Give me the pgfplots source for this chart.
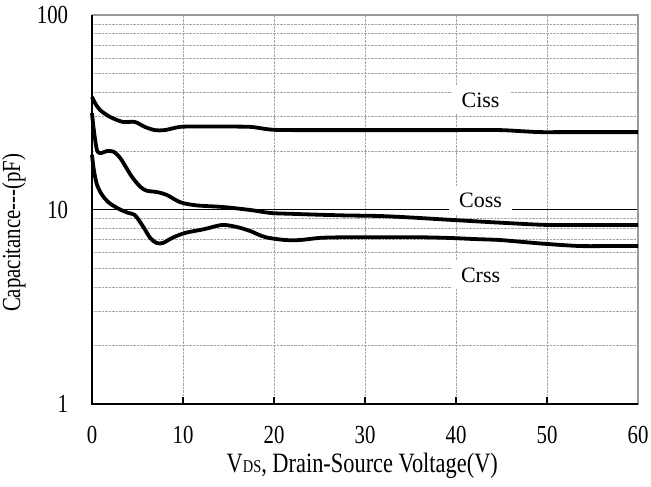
\documentclass[border=0pt]{standalone}
\usepackage{fontspec}
\setmainfont{Liberation Serif}[FakeStretch=0.8]
\newfontfamily\lblfont{Liberation Serif}
\usepackage{pgfplots}
\pgfplotsset{compat=1.18}
\begin{document}
\fontsize{26}{30}\selectfont
\begin{tikzpicture}
\begin{axis}[
  scale only axis, width=546pt, height=389pt,
  xmin=0, xmax=60, ymin=1, ymax=100, ymode=log,
  axis line style={draw=none},
  xtick={0,10,20,30,40,50,60}, xticklabels={0,10,20,30,40,50,60},
  ytick={1,10,100}, yticklabels={1,10,100},
  minor ytick={2,3,4,5,6,7,8,9,20,30,40,50,60,70,80,90},
  xtick pos=bottom, ytick pos=left,
  tick align=inside,
  major tick length=7pt, minor tick length=0pt,
  tick style={black, line width=1.5pt},
  xmajorgrids, yminorgrids,
  major grid style={gray!70, densely dotted, line width=0.8pt},
  minor grid style={gray!70, densely dotted, line width=0.8pt},
  extra y ticks={10}, extra y tick labels={},
  extra y tick style={grid=major, major grid style={black, solid, line width=1.3pt}},
  xticklabel style={yshift=-13pt},
  yticklabel style={xshift=-15pt},
  xlabel={V{\fontsize{18}{18}\selectfont DS}, Drain-Source Voltage(V)},
  ylabel={Capacitance-{}-{}-(pF)},
  xlabel style={at={(axis description cs:0.495,-0.158)}, anchor=center, font=\fontsize{28}{30}\selectfont},
  ylabel style={at={(axis description cs:-0.143,0.44)}, anchor=center, font=\fontsize{26}{28}\selectfont},
  clip=false,
]
\coordinate (ll) at (rel axis cs:0,0);
\coordinate (ur) at (rel axis cs:1,1);
\draw[gray!80, line width=2pt] (rel axis cs:0,1) -- (rel axis cs:1,1) -- (rel axis cs:1,0);
\draw[black, line width=2.5pt] (rel axis cs:0,1) -- (rel axis cs:0,0) -- (rel axis cs:1,0);

% Ciss
\addplot[black, line width=3.8pt, smooth, tension=0.5] coordinates {
(0,37.9) (0.33,35.3) (0.88,32.5) (2.0,29.9) (3.4,28.2) (4.7,28.2) (5.8,26.6) (6.9,25.6) (8.0,25.6) (9.7,26.6) (12,26.7) (15,26.7) (17.4,26.6) (18.7,26.1) (19.9,25.7) (22,25.6) (26,25.6) (30,25.6) (35,25.6) (40,25.6) (44.8,25.6) (47,25.3) (49.2,25.0) (52,25.0) (56,25.0) (60,25.0)
};
% Coss
\addplot[black, line width=3.8pt, smooth, tension=0.5] coordinates {
(0,31.3) (0.2,25.6) (0.55,20.2) (1.0,19.5) (1.65,20.0) (2.4,19.8) (3.1,18.4) (3.6,16.9) (4.4,14.7) (5.3,13.1) (6.0,12.5) (7.1,12.3) (8.2,11.9) (9.7,10.9) (11.5,10.5) (14.4,10.3) (17.4,9.94) (19.6,9.6) (22,9.5) (25,9.4) (28,9.32) (31.6,9.26) (35,9.1) (39.7,8.83) (45,8.55) (50,8.33) (55,8.33) (60,8.33)
};
% Crss
\addplot[black, line width=3.8pt, smooth, tension=0.5] coordinates {
(0,19.1) (0.2,16.0) (0.55,13.4) (1.1,11.9) (1.8,10.9) (2.9,10.1) (4.0,9.6) (4.7,9.37) (5.5,8.33) (6.4,7.14) (7.1,6.73) (7.8,6.73) (8.8,7.14) (10.2,7.57) (12.4,7.94) (14.3,8.33) (15.9,8.13) (17.4,7.75) (19.0,7.22) (21.2,6.97) (22.9,6.97) (25.1,7.15) (28,7.2) (32,7.2) (36,7.2) (39.3,7.14) (42,7.05) (44.8,6.97) (47.5,6.8) (50,6.65) (53.6,6.49) (57,6.49) (60,6.49)
};

\node[fill=white, inner xsep=10pt, inner ysep=7pt, font=\lblfont\fontsize{22}{24}\selectfont] at (axis cs:42.7,36.6) {Ciss};
\node[fill=white, inner xsep=10pt, inner ysep=7pt, font=\lblfont\fontsize{22}{24}\selectfont] at (axis cs:42.7,11.2) {Coss};
\node[fill=white, inner xsep=10pt, inner ysep=7pt, font=\lblfont\fontsize{22}{24}\selectfont] at (axis cs:42.7,4.6) {Crss};
\end{axis}
\path (ll) ++(-92pt,-82pt) coordinate (A);
\path (ur) ++(13pt,15pt) coordinate (B);
\pgfresetboundingbox
\useasboundingbox (A) rectangle (B);
\end{tikzpicture}
\end{document}
